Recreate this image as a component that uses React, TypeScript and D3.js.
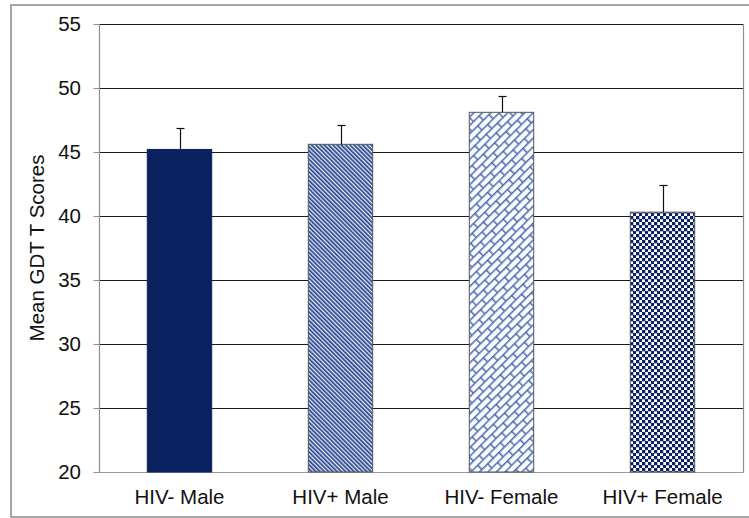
import React from 'react';
import * as d3 from 'd3';

const categories = ['HIV- Male', 'HIV+ Male', 'HIV- Female', 'HIV+ Female'];
const means = [45.2, 45.6, 48.1, 40.3];
const errors = [1.7, 1.5, 1.3, 2.1];
const yTicks = [20, 25, 30, 35, 40, 45, 50, 55];
const fills = ['#0b215f', 'url(#stripes)', 'url(#bricks)', 'url(#checks)'];

const W = 749;
const H = 518;
const margin = { top: 24, right: 6, bottom: 46, left: 99 };

export default function App() {
    const x = d3.scaleBand<string>()
        .domain(categories)
        .range([margin.left, W - margin.right])
        .paddingInner(0.6)
        .paddingOuter(0.3);

    const y = d3.scaleLinear()
        .domain([20, 55])
        .range([H - margin.bottom, margin.top]);

    // snap 1px lines onto the pixel grid
    const py = (v: number) => Math.round(y(v)) + 0.5;

    const font = 'Arial, "Liberation Sans", sans-serif';
    const left = margin.left + 0.5;
    const right = W - margin.right + 0.5;

    return (
        <svg width={W} height={H} style={{ position: 'absolute', left: 0, top: 0 }}>
            <defs>
                <pattern id="stripes" width="3" height="3" patternUnits="userSpaceOnUse" patternTransform="rotate(-45)">
                    <rect width="3" height="3" fill="#e8ecf5" />
                    <rect width="1.7" height="3" fill="#24448c" />
                </pattern>
                <pattern id="bricks" width="16" height="12" patternUnits="userSpaceOnUse" patternTransform="rotate(-45)">
                    <rect width="16" height="12" fill="#fbfcff" />
                    <path d="M0,0.75 H16 M0,6.75 H16 M0.75,0 V6.75 M8.75,6.75 V12" stroke="#4c6bb2" strokeWidth="1.5" fill="none" />
                </pattern>
                <pattern id="checks" width="6" height="6" patternUnits="userSpaceOnUse">
                    <rect width="6" height="6" fill="#ffffff" />
                    <rect width="3.3" height="3.3" fill="#0c2266" />
                    <rect x="3" y="3" width="3.3" height="3.3" fill="#0c2266" />
                </pattern>
            </defs>

            {/* outer frame */}
            <rect x={11} y={5} width={W + 10} height={512} fill="#fff" stroke="#8a8a8a" strokeWidth={1.5} />

            {/* gridlines */}
            {yTicks.slice(1).map(t => (
                <line key={'g' + t} x1={left} x2={right} y1={py(t)} y2={py(t)} stroke="#1a1a1a" strokeWidth={1} />
            ))}

            {/* plot border */}
            <line x1={left} x2={left} y1={py(55)} y2={py(20)} stroke="#8f8f8f" strokeWidth={1.2} />
            <line x1={right} x2={right} y1={py(55)} y2={py(20)} stroke="#8f8f8f" strokeWidth={1.2} />
            <line x1={left} x2={right} y1={py(20)} y2={py(20)} stroke="#9a9a9a" strokeWidth={1.2} />

            {/* y ticks & labels */}
            {yTicks.map(t => (
                <g key={'t' + t}>
                    <line x1={left - 6} x2={left} y1={py(t)} y2={py(t)} stroke="#8f8f8f" strokeWidth={1} />
                    <text x={81} y={y(t)} dy="0.36em" textAnchor="end" fontFamily={font} fontSize={20.5} fill="#111">{t}</text>
                </g>
            ))}

            {/* bars */}
            {categories.map((c, i) => (
                <rect key={c} x={x(c)} y={y(means[i])} width={x.bandwidth()} height={y(20) - y(means[i])}
                    fill={fills[i]} stroke={i === 0 ? '#0b215f' : '#555'} strokeWidth={1} />
            ))}

            {/* error bars */}
            {categories.map((c, i) => {
                const cx = Math.round((x(c) as number) + x.bandwidth() / 2) + 0.5;
                const top = Math.round(y(means[i] + errors[i])) + 0.5;
                return (
                    <g key={'e' + c} stroke="#111" strokeWidth={1.2}>
                        <line x1={cx} x2={cx} y1={y(means[i])} y2={top} />
                        <line x1={cx - 4} x2={cx + 4} y1={top} y2={top} />
                    </g>
                );
            })}

            {/* x labels */}
            {categories.map(c => (
                <text key={'x' + c} x={(x(c) as number) + x.bandwidth() / 2} y={504} textAnchor="middle"
                    fontFamily={font} fontSize={20.5} fill="#111">{c}</text>
            ))}

            {/* y title */}
            <text transform={`translate(44, ${(y(20) + y(55)) / 2}) rotate(-90)`} textAnchor="middle"
                fontFamily={font} fontSize={20.5} fill="#111">Mean GDT T Scores</text>
        </svg>
    );
}
